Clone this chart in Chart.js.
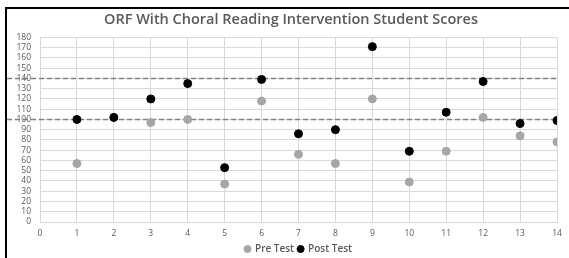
<!DOCTYPE html>
<html>
<head>
<meta charset="utf-8">
<script src="https://cdn.jsdelivr.net/npm/chart.js@4.4.1/dist/chart.umd.min.js"></script>
<style>
html,body{margin:0;padding:0;background:#fff;}
#wrap{position:relative;width:569px;height:258px;overflow:hidden;background:#fff;}
#frame{position:absolute;left:5px;top:7px;right:-5px;bottom:-5px;border-left:2px solid #000;border-top:2px solid #000;pointer-events:none;z-index:2;}
canvas{position:absolute;left:0;top:0;}
</style>
</head>
<body>
<div id="wrap">
<canvas id="c" width="569" height="258"></canvas>
<div id="frame"></div>
</div>
<script>
const students = [1,2,3,4,5,6,7,8,9,10,11,12,13,14];
const preTest  = [57,102,97,100,37,118,66,57,120,39,69,102,84,78];
const postTest = [100,102,120,135,53,139,86,90,171,69,107,137,96,99];
const referenceLines = [100,140];
const titleText = 'ORF With Choral Reading Intervention Student Scores';

const refLinePlugin = {
  id:'refLines',
  afterLayout(chart){
    // the title is centred on the whole chart box (inside its left frame)
    if (chart.titleBlock) { chart.titleBlock.left += 17; }
  },
  beforeDatasetsDraw(chart){
    const {ctx, chartArea, scales} = chart;
    ctx.save();
    ctx.strokeStyle = '#7f7f7f';
    ctx.lineWidth = 1.5;
    ctx.setLineDash([5,3]);
    referenceLines.forEach(v=>{
      const y = Math.round(scales.y.getPixelForValue(v))+0.5;
      ctx.beginPath();
      ctx.moveTo(7, y);
      ctx.lineTo(chartArea.right, y);
      ctx.stroke();
    });
    ctx.restore();
  }
};

new Chart(document.getElementById('c'), {
  type:'scatter',
  data:{
    datasets:[
      {label:'Pre Test', order:2, data:students.map((s,i)=>({x:s,y:preTest[i]})), backgroundColor:'#a6a6a6', borderColor:'#a6a6a6', pointRadius:4, pointHoverRadius:4, pointStyle:'circle'},
      {label:'Post Test', order:1, data:students.map((s,i)=>({x:s,y:postTest[i]})), backgroundColor:'#000', borderColor:'#000', pointRadius:4, pointHoverRadius:4, pointStyle:'circle'}
    ]
  },
  options:{
    responsive:false, animation:false, devicePixelRatio:1,
    layout:{padding:{left:8,right:12,top:0,bottom:-6}},
    plugins:{
      title:{display:true,text:titleText,color:'#595959',font:{family:'Open Sans',size:14.5,weight:'600'},padding:{top:11,bottom:9}},
      legend:{position:'bottom',fullSize:false,labels:{usePointStyle:true,pointStyle:'circle',boxWidth:5,boxHeight:5,padding:4,color:'#595959',font:{family:'Open Sans',size:10,weight:'600'},sort:(a,b)=>a.datasetIndex-b.datasetIndex}},
      tooltip:{enabled:false}
    },
    scales:{
      x:{type:'linear',min:0,max:14,
        ticks:{stepSize:1,autoSkip:false,color:'#595959',padding:6,font:{family:'Open Sans',size:8.5}},
        grid:{color:'#d9d9d9',drawTicks:false},border:{color:'#d9d9d9'},
        afterFit(s){s.height=18;}},
      y:{min:0,max:180,
        ticks:{stepSize:10,autoSkip:false,color:'#595959',padding:9,font:{family:'Open Sans',size:8.5}},
        grid:{color:'#d9d9d9',drawTicks:false},border:{color:'#d9d9d9'},
        afterFit(s){s.width=32;}}
    }
  },
  plugins:[refLinePlugin]
});
</script>
</body>
</html>
